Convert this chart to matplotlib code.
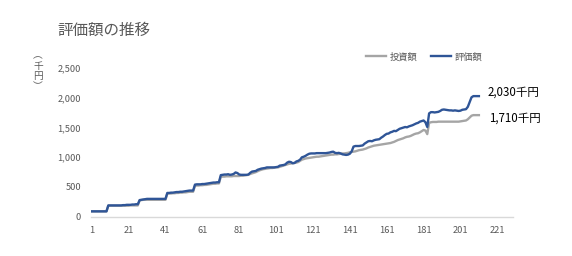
import matplotlib
matplotlib.use("Agg")
import matplotlib.pyplot as plt

plt.rcParams['font.family'] = ['Noto Sans CJK JP', 'DejaVu Sans']

title = "評価額の推移"
ylabel = "︵\n千\n円\n︶"
series_names = ["投資額", "評価額"]
xticks = [1, 21, 41, 61, 81, 101, 121, 141, 161, 181, 201, 221]
yticks = [0, 500, 1000, 1500, 2000, 2500]

hyouka = (
    [90] * 9
    + [190] * 8
    + [195, 195, 200, 200, 200, 205, 205, 210, 210]
    + [280, 285, 290, 295] + [300] * 11
    + [400, 400, 405, 405, 410, 415, 415, 420, 420, 425, 430, 435, 440, 440, 440]
    + [540, 545, 545, 545, 550, 550, 555, 560, 565, 570, 575, 575, 580, 580]
    + [700, 705, 710, 710, 715, 705, 710, 720, 745, 735, 710, 705, 705, 705, 705, 710]
    + [740, 760, 765, 770, 790, 800, 810, 815, 820, 830, 830, 830, 830, 830, 835, 840]
    + [860, 865, 870, 880, 910, 925, 920, 900, 905, 930, 940, 960, 1000, 1010, 1025]
    + [1045, 1060, 1065, 1065, 1065, 1070, 1070, 1070, 1070, 1070, 1070, 1075, 1080]
    + [1090, 1095, 1075, 1070, 1075, 1065, 1050, 1045, 1040, 1045, 1060]
    + [1100, 1180, 1190, 1190, 1190, 1195, 1200, 1230, 1250, 1270, 1275, 1270, 1285, 1295, 1300]
    + [1305, 1330, 1350, 1375, 1395, 1400, 1420, 1430, 1445, 1440, 1460, 1480, 1490, 1500, 1510, 1505]
    + [1520, 1530, 1540, 1555, 1570, 1580, 1600, 1610, 1620, 1590, 1510]
    + [1740, 1760, 1760, 1755, 1760, 1765, 1780, 1800, 1805, 1800, 1795, 1790, 1790, 1785, 1790,
       1785, 1780, 1785, 1800, 1805, 1810]
    + [1850, 1930, 2010, 2030, 2030, 2030, 2030]
)

toushi = (
    [90] * 9
    + [185] * 12 + [190] * 5
    + [275, 280] + [285] * 13
    + [385, 390, 390, 395, 395, 400, 400, 405, 405, 410, 410, 415, 420, 420, 420]
    + [520, 525, 525, 530, 530, 535, 535, 540, 545, 550, 555, 555, 560, 560]
    + [670, 675, 675, 680, 680, 680, 680, 685, 685, 685, 685, 690, 690, 695, 700, 705]
    + [720, 730, 740, 750, 765, 780, 790, 800, 805, 810, 815, 820, 820, 825, 830, 830]
    + [840, 850, 860, 870, 880, 890, 895, 900, 905, 910, 920, 940, 960, 970, 980]
    + [985, 990, 995, 1000, 1005, 1010, 1010, 1015, 1020, 1025, 1030, 1035, 1040]
    + [1045, 1045, 1050, 1050, 1055, 1060, 1065, 1065, 1070, 1075, 1085]
    + [1090, 1095, 1100, 1110, 1120, 1125, 1130, 1140, 1150, 1165, 1175, 1185, 1195, 1200, 1205]
    + [1210, 1215, 1220, 1225, 1230, 1235, 1240, 1250, 1260, 1275, 1290, 1300, 1310, 1320, 1335, 1345]
    + [1350, 1360, 1375, 1390, 1400, 1405, 1420, 1440, 1460, 1450, 1390]
    + [1580, 1590, 1595, 1595, 1595] + [1600] * 12 + [1605, 1610, 1615, 1620]
    + [1640, 1670, 1700, 1710, 1710, 1710, 1710]
)

x = list(range(1, len(hyouka) + 1))

fig = plt.figure(figsize=(5.72, 2.56), dpi=100)
ax = fig.add_axes([90.8 / 572, 1 - 216.7 / 256, (513 - 90.8) / 572, (216.7 - 68.2) / 256])

gray_c = "#A5A5A5"
blue_c = "#2F5597"
txt_c = "#595959"

ax.plot(x, toushi, color=gray_c, lw=1.7, label=series_names[0], solid_joinstyle="round")
ax.plot(x, hyouka, color=blue_c, lw=1.7, label=series_names[1], solid_joinstyle="round")

ax.set_xlim(0.5, 229.5)
ax.set_ylim(0, 2500)
ax.set_xticks(xticks)
ax.set_yticks(yticks)
ax.set_yticklabels([f"{v:,}" for v in yticks])
ax.tick_params(axis="both", length=0, labelsize=6.7, colors=txt_c, pad=7)
for s in ["top", "right", "left"]:
    ax.spines[s].set_visible(False)
ax.spines["bottom"].set_color("#D9D9D9")
ax.spines["bottom"].set_linewidth(1.0)

ax.annotate(f"{hyouka[-1]:,}千円", xy=(x[-1], hyouka[-1]), xytext=(6, 3),
            textcoords="offset points", fontsize=8.3, color="black", va="center", ha="left")
ax.annotate(f"{toushi[-1]:,}千円", xy=(x[-1], toushi[-1]), xytext=(7.5, -2),
            textcoords="offset points", fontsize=8.3, color="black", va="center", ha="left")

fig.text(57 / 572, 1 - 30 / 256, title, fontsize=11.2, color=txt_c, va="center", ha="left")
fig.text(38 / 572, 1 - 71 / 256, ylabel, fontsize=7.0, color=txt_c, va="center", ha="center",
         linespacing=1.05)

fig.legend(loc="center", bbox_to_anchor=(424 / 572, 1 - 57 / 256), ncol=2, frameon=False,
           fontsize=6.7, handlelength=2.2, columnspacing=1.5, handletextpad=0.3,
           labelcolor=txt_c)

fig.savefig("out.png", dpi=100)
